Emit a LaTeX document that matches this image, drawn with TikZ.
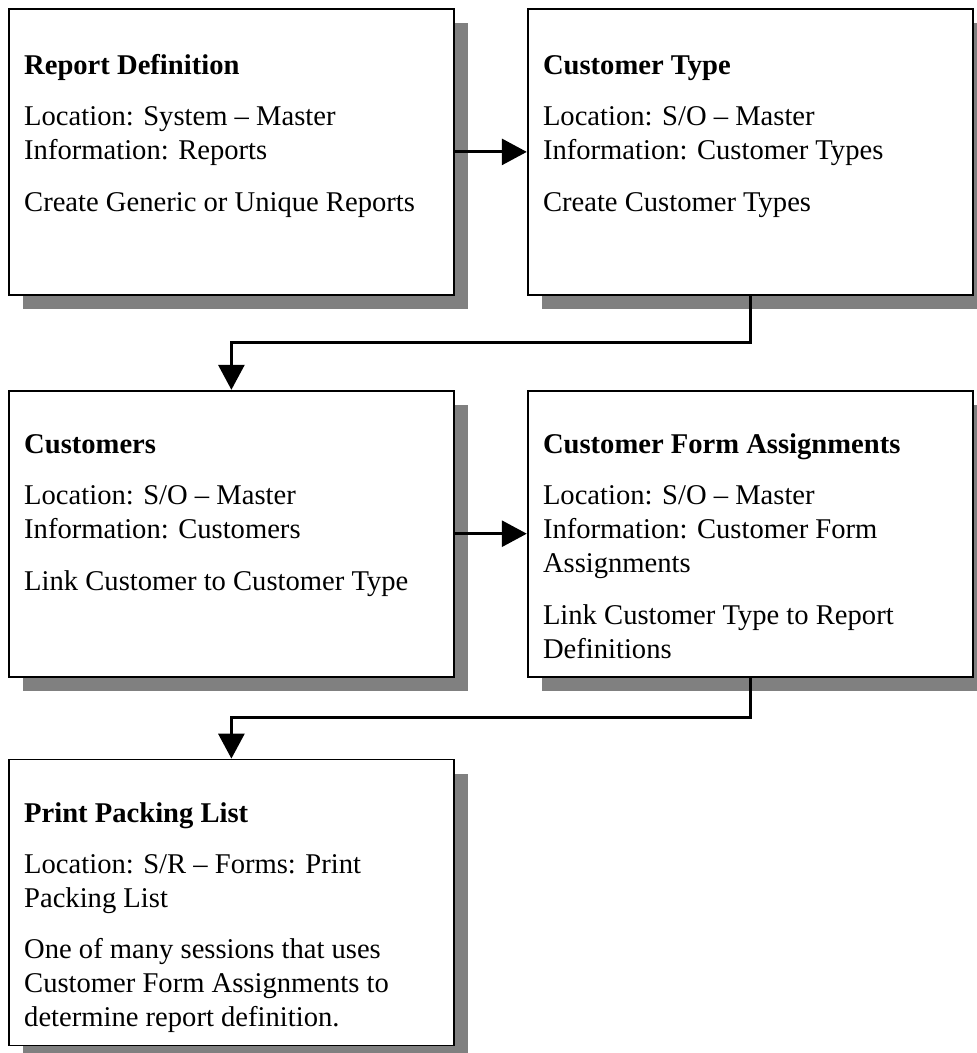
\documentclass[tikz,border=0pt]{standalone}
\usepackage{fontspec}
\setmainfont{Liberation Serif}
\usepackage{tikz}
\usetikzlibrary{positioning,arrows.meta,shadows,calc}
\definecolor{ink}  {HTML}{000000}
\definecolor{shade}{HTML}{808080}
\newcommand{\cardtitle}[1]{\strut\textbf{#1}}
\tikzset{
  every node/.style={font=\fontsize{28.6}{34}\selectfont},
  % --- nodes
  card/.style = {draw=ink, fill=white, line width=1.8pt, inner sep=0pt,
                 minimum width=445pt, minimum height=286pt,
                 drop shadow={shadow xshift=14pt, shadow yshift=-14pt,
                              fill=shade, opacity=1}},
  body/.style = {anchor=north west, align=left, inner sep=0pt},
  % --- edges
  e/.style    = {-{Triangle[length=25pt,width=26pt]}, line width=3pt, draw=ink},
}
\begin{document}
\begin{tikzpicture}
  \useasboundingbox (0,0) rectangle (977pt,-1053pt);
  % boxes
  \node[card, anchor=north west] (rd) at (8pt,-8pt) {};
  \node[card, right=72pt of rd] (ct) {};
  \node[card, below=94pt of rd] (cu) {};
  \node[card, right=72pt of cu] (cf) {};
  \node[card, below=81pt of cu] (pp) {};
  % texts
  \node[body] (rdtxt) at ([shift={(16pt,-42pt)}]rd.north west)
    {\cardtitle{Report Definition}\\[17pt]
     Location: System – Master\\
     Information: Reports\\[18pt]
     Create Generic or Unique Reports};
  \node[body] (cttxt) at ([shift={(16pt,-42pt)}]ct.north west)
    {\cardtitle{Customer Type}\\[17pt]
     Location: S/O – Master\\
     Information: Customer Types\\[18pt]
     Create Customer Types};
  \node[body] (cutxt) at ([shift={(16pt,-40pt)}]cu.north west)
    {\cardtitle{Customers}\\[17pt]
     Location: S/O – Master\\
     Information: Customers\\[18pt]
     Link Customer to Customer Type};
  \node[body] (cftxt) at ([shift={(16pt,-40pt)}]cf.north west)
    {\cardtitle{Customer Form Assignments}\\[17pt]
     Location: S/O – Master\\
     Information: Customer Form\\
     Assignments\\[18pt]
     Link Customer Type to Report\\
     Definitions};
  \node[body] (pptxt) at ([shift={(16pt,-40pt)}]pp.north west)
    {\cardtitle{Print Packing List}\\[17pt]
     Location: S/R – Forms: Print\\
     Packing List\\[17pt]
     One of many sessions that uses\\
     Customer Form Assignments to\\
     determine report definition.};
  % flow
  \draw[e] (rd.east) -- (ct.west);
  \draw[e] (ct.south) -- ++(0,-47pt) -| (cu.north);
  \draw[e] (cu.east) -- (cf.west);
  \draw[e] (cf.south) -- ++(0,-40pt) -| (pp.north);
\end{tikzpicture}
\end{document}
